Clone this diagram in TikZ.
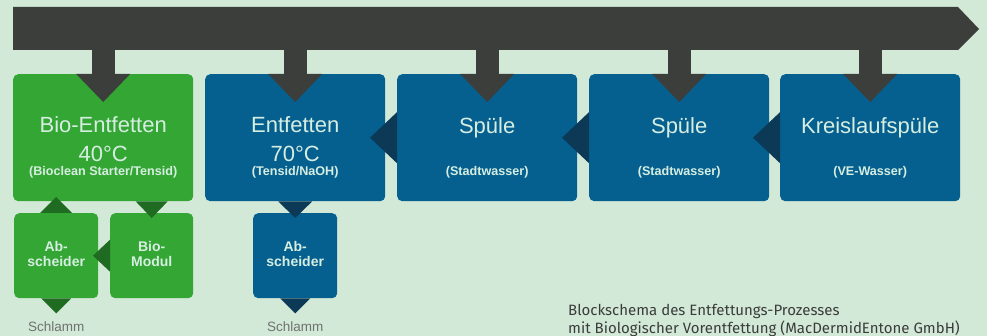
\documentclass[tikz,border=0pt]{standalone}
\usepackage{fontspec}
\setmainfont{Liberation Sans}
\newfontfamily\capfont{Fira Sans}
\usetikzlibrary{calc}
\definecolor{bg}{HTML}{D3E9D8}
\definecolor{barc}{HTML}{3B3E3B}
\definecolor{gbox}{HTML}{34A633}
\definecolor{bbox}{HTML}{05608F}
\definecolor{garr}{HTML}{1F6B22}
\definecolor{barr}{HTML}{0B3956}
\definecolor{txt}{HTML}{D6EEE2}
\definecolor{slud}{HTML}{6E726E}
\definecolor{capc}{HTML}{3A3C3A}
\newcommand\feedarrow[1]{%
  \fill[barc] ($(#1.north)+(-11.5,-24)$) rectangle ($(#1.north)+(11.5,0)$);
  \fill[barc] ($(#1.north)+(-27,0)$) -- ($(#1.north)+(27,0)$) -- ($(#1.north)+(0,28)$) -- cycle;}
\newcommand\backarrow[1]{%
  \fill[barr] ($(#1.west)+(0,-25.5)$) -- ($(#1.west)+(-27,0)$) -- ($(#1.west)+(0,25.5)$) -- cycle;}
\begin{document}
\begin{tikzpicture}[x=1pt,y=-1pt,
  bigbox/.style={anchor=north west, rounded corners=5pt, inner sep=0pt, minimum width=180pt, minimum height=127pt},
  smallbox/.style={anchor=north west, rounded corners=5pt, inner sep=0pt, minimum width=84pt, minimum height=85pt},
  title/.style={text=txt, font=\fontsize{22}{26}\selectfont, anchor=base, inner sep=0pt},
  sub/.style={text=txt, font=\bfseries\fontsize{12.6}{14}\selectfont, anchor=base, inner sep=0pt},
  small/.style={text=txt, font=\bfseries\fontsize{14}{16}\selectfont, anchor=base, inner sep=0pt},
  sludge/.style={text=slud, font=\fontsize{13.5}{15}\selectfont, anchor=base, inner sep=0pt},
  caption/.style={text=capc, font=\capfont\fontsize{15}{18}\selectfont, anchor=base west, inner sep=0pt}]
\useasboundingbox (0,0) rectangle (987,336);
\fill[bg] (0,0) rectangle (987,336);
% top bar
\fill[barc] (13,7) -- (958,7) -- (979,29) -- (958,50) -- (13,50) -- cycle;
% main boxes
\node[bigbox, fill=gbox] (b1) at (13,74) {};
\node[bigbox, fill=bbox] (b2) at (205,74) {};
\node[bigbox, fill=bbox] (b3) at (397,74) {};
\node[bigbox, fill=bbox] (b4) at (589,74) {};
\node[bigbox, fill=bbox] (b5) at (780,74) {};
% small boxes
\node[smallbox, fill=gbox] (a1) at (14,213) {};
\node[smallbox, fill=gbox, minimum width=83pt] (m1) at (110,213) {};
\node[smallbox, fill=bbox] (a2) at (253,213) {};
% feed arrows from bar
\feedarrow{b1}\feedarrow{b2}\feedarrow{b3}\feedarrow{b4}\feedarrow{b5}
% backward arrows
\backarrow{b3}\backarrow{b4}\backarrow{b5}
% green small arrows
\fill[garr] ($(m1.west)+(0,-16)$) -- ($(m1.west)+(-17,0)$) -- ($(m1.west)+(0,16)$) -- cycle;
\fill[garr] ($(a1.north)+(-16,0)$) -- ($(a1.north)+(0,-16)$) -- ($(a1.north)+(16,0)$) -- cycle;
\fill[garr] ($(m1.north |- b1.south)+(-16,0)$) -- ($(m1.north)+(0,5)$) -- ($(m1.north |- b1.south)+(16,0)$) -- cycle;
\fill[garr] ($(a1.south)+(-15,0)$) -- ($(a1.south)+(0,15)$) -- ($(a1.south)+(15,0)$) -- cycle;
% blue small arrows
\fill[barr] ($(a2.north |- b2.south)+(-17,0)$) -- ($(a2.north)+(0,5)$) -- ($(a2.north |- b2.south)+(17,0)$) -- cycle;
\fill[barr] ($(a2.south)+(-15,0)$) -- ($(a2.south)+(0,15)$) -- ($(a2.south)+(15,0)$) -- cycle;
% texts main boxes
\node[title] (t1) at ($(b1.north)+(0,59)$) {Bio-Entfetten};
\node[title] (t1b) at ($(b1.north)+(0,88)$) {40°C};
\node[sub] (t1c) at ($(b1.north)+(0,102)$) {(Bioclean Starter/Tensid)};
\node[title] (t2) at ($(b2.north)+(0,59)$) {Entfetten};
\node[title] (t2b) at ($(b2.north)+(0,88)$) {70°C};
\node[sub] (t2c) at ($(b2.north)+(0,102)$) {(Tensid/NaOH)};
\node[title] (t3) at ($(b3.north)+(0,60)$) {Spüle};
\node[sub] (t3c) at ($(b3.north)+(0,102)$) {(Stadtwasser)};
\node[title] (t4) at ($(b4.north)+(0,60)$) {Spüle};
\node[sub] (t4c) at ($(b4.north)+(0,102)$) {(Stadtwasser)};
\node[title] (t5) at ($(b5.north)+(0,60)$) {Kreislaufspüle};
\node[sub] (t5c) at ($(b5.north)+(0,102)$) {(VE-Wasser)};
% texts small boxes
\node[small] (s1) at ($(a1.north)+(0,38.7)$) {Ab-};
\node[small] (s1b) at ($(a1.north)+(0,53.7)$) {scheider};
\node[small] (s2) at ($(m1.north)+(0,38.7)$) {Bio-};
\node[small] (s2b) at ($(m1.north)+(0,53.7)$) {Modul};
\node[small] (s3) at ($(a2.north)+(0,38.7)$) {Ab-};
\node[small] (s3b) at ($(a2.north)+(0,53.7)$) {scheider};
% sludge
\node[sludge] (sl1) at ($(a1.south)+(0,33.5)$) {Schlamm};
\node[sludge] (sl2) at ($(a2.south)+(0,33.5)$) {Schlamm};
% caption
\node[caption] (c1) at (568,315.5) {Blockschema des Entfettungs-Prozesses};
\node[caption] (c2) at (568,333.5) {mit Biologischer Vorentfettung (MacDermidEntone GmbH)};
\end{tikzpicture}
\end{document}
